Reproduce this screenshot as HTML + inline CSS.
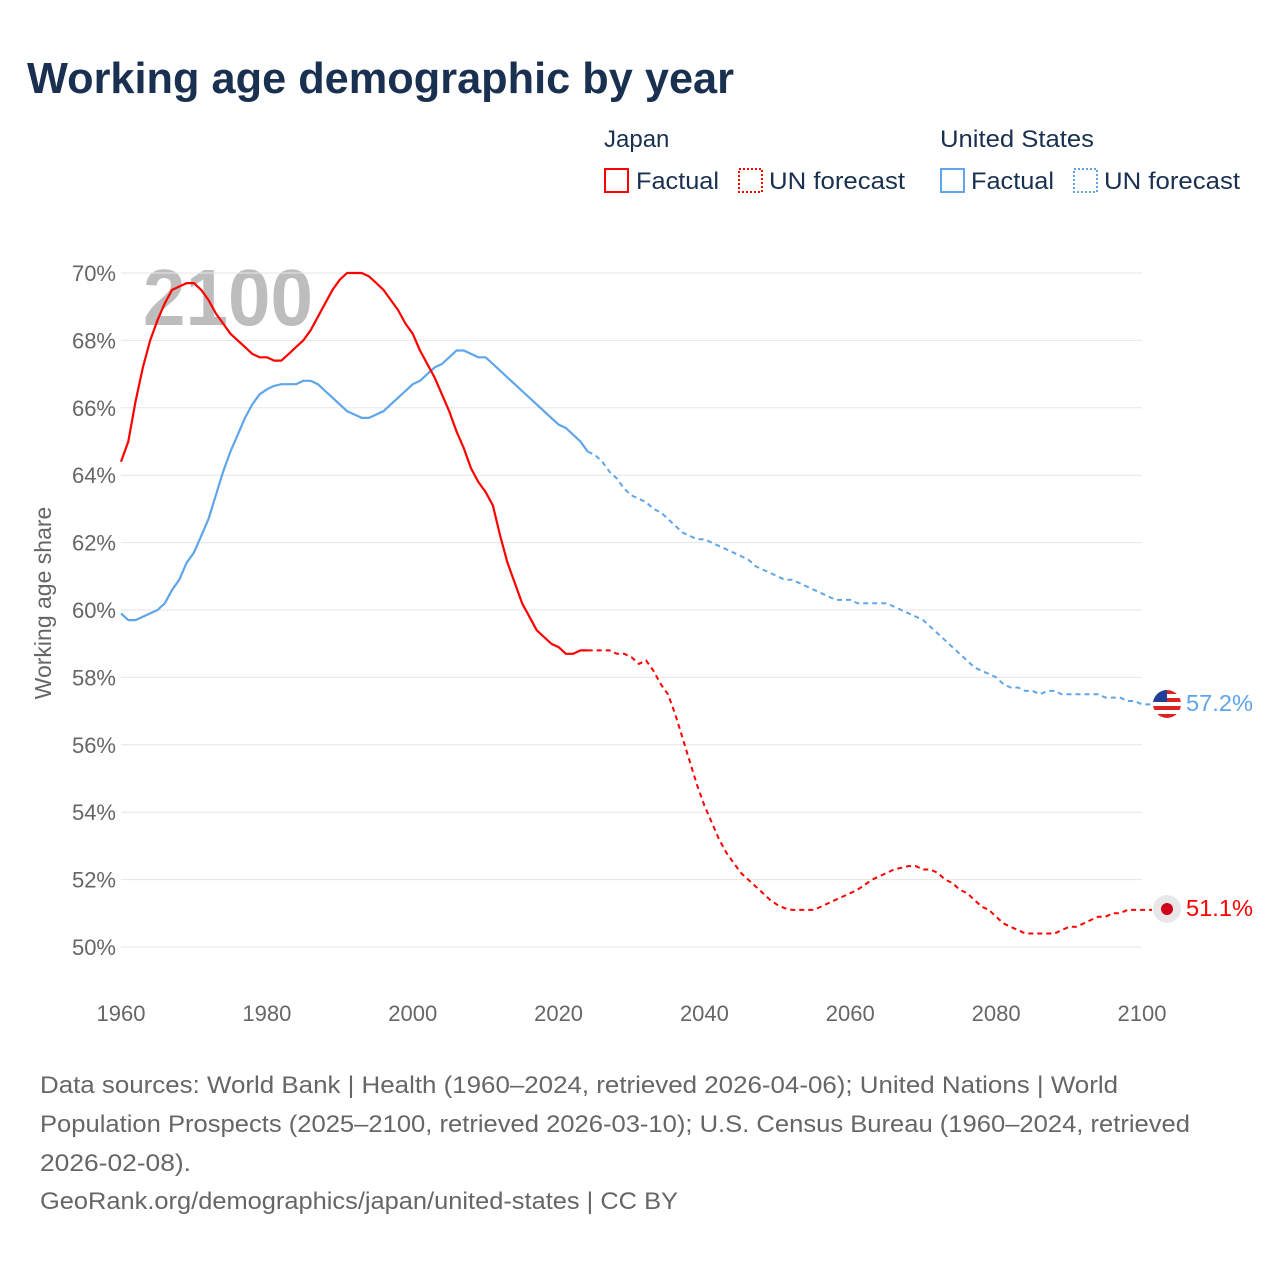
<!DOCTYPE html>
<html><head><meta charset="utf-8">
<style>
body{margin:0;background:#fff;font-family:"Liberation Sans",sans-serif;}
#wrap{position:relative;width:1280px;height:1280px;overflow:hidden;}
</style></head>
<body>
<div id="wrap">
<svg id="chart" width="1280" height="1280" xmlns="http://www.w3.org/2000/svg">
<text x="27" y="93" font-size="44" font-weight="bold" fill="#1a3050" font-family="Liberation Sans, sans-serif" textLength="707" lengthAdjust="spacingAndGlyphs">Working age demographic by year</text>
<g font-size="24" fill="#1a3050" font-family="Liberation Sans, sans-serif">
<text x="604" y="147">Japan</text>
<rect x="605" y="169" width="23" height="23" fill="none" stroke="#f00" stroke-width="2"/>
<text x="636" y="189" textLength="83" lengthAdjust="spacingAndGlyphs">Factual</text>
<rect x="739" y="169" width="23" height="23" fill="none" stroke="#f00" stroke-width="2" stroke-dasharray="2,2"/>
<text x="769" y="189" textLength="136" lengthAdjust="spacingAndGlyphs">UN forecast</text>
<text x="940" y="147" textLength="154" lengthAdjust="spacingAndGlyphs">United States</text>
<rect x="941" y="169" width="23" height="23" fill="none" stroke="#5ea5ea" stroke-width="2"/>
<text x="971" y="189" textLength="83" lengthAdjust="spacingAndGlyphs">Factual</text>
<rect x="1074" y="169" width="23" height="23" fill="none" stroke="#5ea5ea" stroke-width="2" stroke-dasharray="2,2"/>
<text x="1104" y="189" textLength="136" lengthAdjust="spacingAndGlyphs">UN forecast</text>
</g>
<text x="143" y="325" font-size="80" font-weight="bold" fill="#bdbdbd" font-family="Liberation Sans, sans-serif" textLength="170" lengthAdjust="spacingAndGlyphs">2100</text>
<g id="grid"></g>
<g id="lines"></g>
<text transform="translate(51,603) rotate(-90)" text-anchor="middle" font-size="23" fill="#666" font-family="Liberation Sans, sans-serif">Working age share</text>
<g>
<clipPath id="fc"><circle cx="1167" cy="704" r="14"/></clipPath>
<g clip-path="url(#fc)">
<rect x="1153" y="690" width="28" height="28" fill="#fff"/>
<rect x="1153" y="690" width="28" height="4" fill="#d22"/>
<rect x="1153" y="698" width="28" height="4" fill="#d22"/>
<rect x="1153" y="706" width="28" height="4" fill="#d22"/>
<rect x="1153" y="714" width="28" height="4" fill="#d22"/>
<rect x="1153" y="690" width="14" height="12" fill="#1f3f99"/>
</g></g>
<text x="1186" y="711" font-size="23" fill="#5ea5ea" font-family="Liberation Sans, sans-serif" textLength="67" lengthAdjust="spacingAndGlyphs">57.2%</text>
<circle cx="1167" cy="909" r="14" fill="#e8e8e8"/>
<circle cx="1167" cy="909" r="6" fill="#d0021b"/>
<text x="1186" y="916" font-size="23" fill="#f00" font-family="Liberation Sans, sans-serif" textLength="67" lengthAdjust="spacingAndGlyphs">51.1%</text>
<g font-size="24" fill="#666" font-family="Liberation Sans, sans-serif">
<text x="40" y="1093" textLength="1078" lengthAdjust="spacingAndGlyphs">Data sources: World Bank | Health (1960–2024, retrieved 2026-04-06); United Nations | World</text>
<text x="40" y="1132" textLength="1150" lengthAdjust="spacingAndGlyphs">Population Prospects (2025–2100, retrieved 2026-03-10); U.S. Census Bureau (1960–2024, retrieved</text>
<text x="40" y="1171" textLength="151" lengthAdjust="spacingAndGlyphs">2026-02-08).</text>
<text x="40" y="1209" textLength="638" lengthAdjust="spacingAndGlyphs">GeoRank.org/demographics/japan/united-states | CC BY</text>
</g>
</svg>
</div>
<script>
const startYear = 1960;
const lastFactualYear = 2024;
const yTicks = [50,52,54,56,58,60,62,64,66,68,70];
const xTicks = [1960,1980,2000,2020,2040,2060,2080,2100];
const japanValues = [64.4,65.0,66.2,67.2,68.0,68.6,69.1,69.5,69.6,69.7,69.7,69.5,69.2,68.8,68.5,68.2,68.0,67.8,67.6,67.5,67.5,67.4,67.4,67.6,67.8,68.0,68.3,68.7,69.1,69.5,69.8,70.0,70.0,70.0,69.9,69.7,69.5,69.2,68.9,68.5,68.2,67.7,67.3,66.9,66.4,65.9,65.3,64.8,64.2,63.8,63.5,63.1,62.2,61.4,60.8,60.2,59.8,59.4,59.2,59.0,58.9,58.7,58.7,58.8,58.8,
58.8,58.8,58.8,58.7,58.7,58.6,58.4,58.5,58.2,57.8,57.5,56.9,56.2,55.5,54.8,54.2,53.7,53.2,52.8,52.5,52.2,52.0,51.8,51.6,51.4,51.25,51.15,51.1,51.1,51.1,51.1,51.2,51.3,51.4,51.5,51.6,51.7,51.85,52.0,52.1,52.2,52.3,52.35,52.4,52.4,52.3,52.3,52.2,52.0,51.9,51.7,51.6,51.4,51.2,51.1,50.9,50.7,50.6,50.5,50.4,50.4,50.4,50.4,50.4,50.5,50.6,50.6,50.7,50.8,50.9,50.9,51.0,51.0,51.1,51.1,51.1];
const usValues = [59.9,59.7,59.7,59.8,59.9,60.0,60.2,60.6,60.9,61.4,61.7,62.2,62.7,63.4,64.1,64.7,65.2,65.7,66.1,66.4,66.55,66.65,66.7,66.7,66.7,66.8,66.8,66.7,66.5,66.3,66.1,65.9,65.8,65.7,65.7,65.8,65.9,66.1,66.3,66.5,66.7,66.8,67.0,67.2,67.3,67.5,67.7,67.7,67.6,67.5,67.5,67.3,67.1,66.9,66.7,66.5,66.3,66.1,65.9,65.7,65.5,65.4,65.2,65.0,64.7,
64.6,64.4,64.1,63.9,63.6,63.4,63.3,63.2,63.0,62.9,62.7,62.5,62.3,62.2,62.1,62.1,62.0,61.9,61.8,61.7,61.6,61.5,61.3,61.2,61.1,61.0,60.9,60.9,60.8,60.7,60.6,60.5,60.4,60.3,60.3,60.3,60.2,60.2,60.2,60.2,60.2,60.1,60.0,59.9,59.8,59.7,59.5,59.3,59.1,58.9,58.7,58.5,58.3,58.2,58.1,58.0,57.8,57.7,57.7,57.6,57.6,57.5,57.6,57.6,57.5,57.5,57.5,57.5,57.5,57.5,57.4,57.4,57.4,57.3,57.3,57.2];

const NS="http://www.w3.org/2000/svg";
const x0=121,x1=1142,yTop=273,yBot=947;
function xs(yr){return x0+(yr-1960)/(2100-1960)*(x1-x0);}
function ys(v){return yBot-(v-50)/(70-50)*(yBot-yTop);}
const grid=document.getElementById('grid');
yTicks.forEach(t=>{
  const l=document.createElementNS(NS,'line');
  l.setAttribute('x1',x0);l.setAttribute('x2',x1);l.setAttribute('y1',ys(t));l.setAttribute('y2',ys(t));
  l.setAttribute('stroke','#e6e6e6');l.setAttribute('stroke-width','1');
  
  
  grid.appendChild(l);
  const tx=document.createElementNS(NS,'text');
  tx.setAttribute('x',116);tx.setAttribute('y',ys(t)+8);tx.setAttribute('text-anchor','end');
  tx.setAttribute('font-size','22');tx.setAttribute('fill','#666');tx.setAttribute('font-family','Liberation Sans, sans-serif');
  tx.textContent=t+'%';
  
  
  grid.appendChild(tx);
});
xTicks.forEach(t=>{
  const tx=document.createElementNS(NS,'text');
  tx.setAttribute('x',xs(t));tx.setAttribute('y',1021);tx.setAttribute('text-anchor','middle');
  tx.setAttribute('font-size','22');tx.setAttribute('fill','#666');tx.setAttribute('font-family','Liberation Sans, sans-serif');
  tx.textContent=t;
  
  
  grid.appendChild(tx);
});
const lines=document.getElementById('lines');
function pts(vals,a,b){let s=[];for(let i=a;i<=b&&i<vals.length;i++)s.push(xs(startYear+i).toFixed(1)+','+ys(vals[i]).toFixed(1));return s.join(' ');}
function addLine(vals,color,name){
  const split=lastFactualYear-startYear;
  const f=document.createElementNS(NS,'polyline');
  f.setAttribute('points',pts(vals,0,split));f.setAttribute('fill','none');f.setAttribute('stroke',color);f.setAttribute('stroke-width','2.2');f.setAttribute('stroke-linejoin','round');
  
  
  lines.appendChild(f);
  const d=document.createElementNS(NS,'polyline');
  d.setAttribute('points',pts(vals,split,vals.length-1)+' '+(xs(2100)+10)+','+ys(vals[vals.length-1]).toFixed(1));
  d.setAttribute('fill','none');d.setAttribute('stroke',color);d.setAttribute('stroke-width','2');d.setAttribute('stroke-dasharray','5,4');
  
  
  lines.appendChild(d);
}
addLine(usValues,'#5ea5ea','us');
addLine(japanValues,'#ff0000','japan');
</script>
</body></html>
